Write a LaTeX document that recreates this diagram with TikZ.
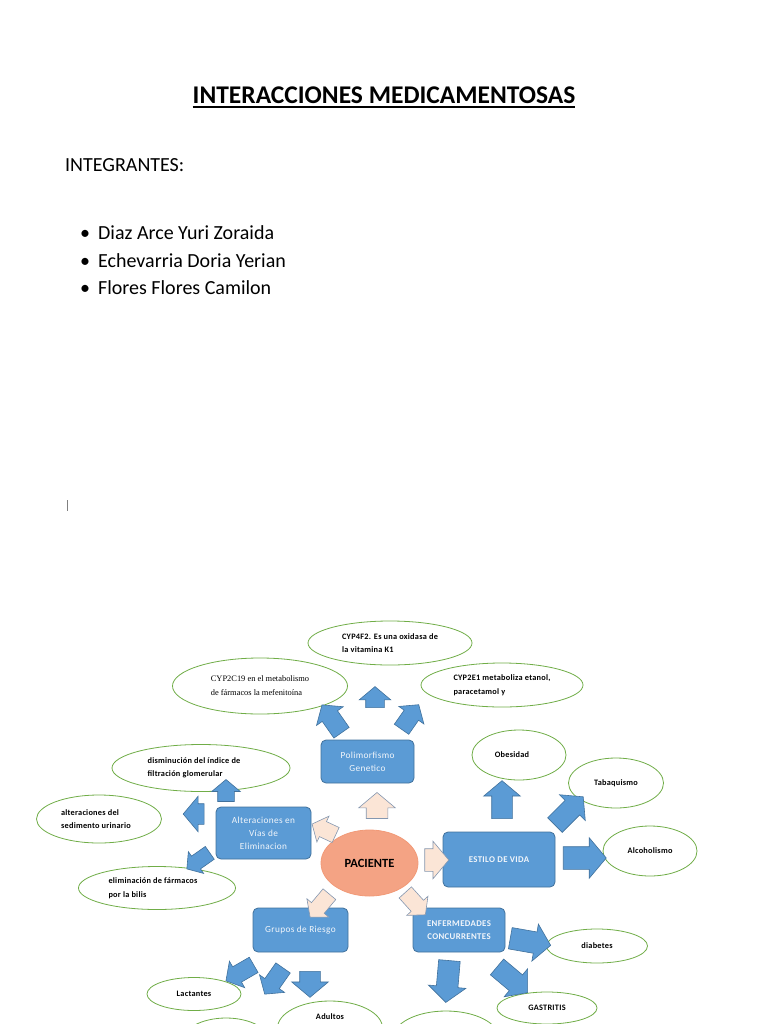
\documentclass[tikz,border=0pt]{standalone}
\usepackage{fontspec}
\setmainfont{Carlito}
\newfontfamily\cypserif{Liberation Serif}
\usetikzlibrary{shapes.arrows,shapes.geometric}
\definecolor{boxblue}{HTML}{5B9BD5}
\definecolor{boxedge}{HTML}{41719C}
\definecolor{peach}{HTML}{FBE5D6}
\definecolor{peachedge}{HTML}{8497B0}
\definecolor{ellgreen}{HTML}{70AD47}
\definecolor{salmon}{HTML}{F4A384}
\definecolor{salmonedge}{HTML}{F19A78}
\definecolor{boxtext}{HTML}{F2F6FB}
\begin{document}
\begin{tikzpicture}[x=1pt,y=-1pt,
  oval/.style={ellipse, draw=ellgreen, line width=0.8pt, fill=white, inner sep=0pt,
    align=left, font=\fontsize{8.3}{13.5}\selectfont\bfseries\addfontfeatures{LetterSpace=3}, text=black},
  bbox/.style={rectangle, rounded corners=5pt, draw=boxedge, line width=0.8pt, fill=boxblue,
    inner sep=0pt, align=center, text=boxtext, font=\fontsize{9.3}{13}\selectfont\addfontfeatures{LetterSpace=4}},
  arrsize/.style n args={4}{minimum height=#1, inner xsep=0pt, inner ysep=#3, single arrow head extend=#4},
  bluearr/.style={single arrow, draw=boxedge, fill=boxblue, line width=0.6pt,
    single arrow tip angle=100, arrsize=#1},
  peacharr/.style={single arrow, draw=peachedge, fill=peach, line width=0.6pt,
    single arrow tip angle=100, arrsize=#1},
  etext/.style={font=\fontsize{8.3}{13}\selectfont\bfseries\addfontfeatures{LetterSpace=3}, inner sep=0pt}
]
\useasboundingbox (0,0) rectangle (768,1024);
\clip (0,0) rectangle (768,1024);

% header
\node[font=\fontsize{25.5}{30}\selectfont\bfseries, inner sep=0pt] (title) at (384,95) {INTERACCIONES MEDICAMENTOSAS};
\draw[line width=1.4pt] (title.south west |- 0,107) coordinate (ul1) -- (title.south east |- 0,107) coordinate (ul2);
\node[font=\fontsize{20}{24}\selectfont, anchor=west, inner sep=0pt] (integ) at (65,165) {INTEGRANTES:};
\node[font=\fontsize{20}{24}\selectfont, anchor=west, inner sep=0pt] (b1) at (80,233) {\textbullet\hspace{8pt}Diaz Arce Yuri Zoraida};
\node[font=\fontsize{20}{24}\selectfont, anchor=west, inner sep=0pt] (b2) at (80,261) {\textbullet\hspace{8pt}Echevarria Doria Yerian};
\node[font=\fontsize{20}{24}\selectfont, anchor=west, inner sep=0pt] (b3) at (80,288) {\textbullet\hspace{8pt}Flores Flores Camilon};
\draw[gray, line width=1pt] (67,500) coordinate (m1) -- (67,511) coordinate (m2);

% ellipses
\node[oval, minimum width=164, minimum height=44] (cyp4) at (390,643) {CYP4F2. Es una oxidasa de\\la vitamina K1};
\node[oval, minimum width=175, minimum height=56, font=\fontsize{8.4}{14}\selectfont\cypserif] (cyp2c) at (260,686) {CYP2C19 en el metabolismo\\de fármacos la mefenitoína};
\node[oval, minimum width=162, minimum height=44] (cyp2e) at (502,685) {CYP2E1 metaboliza etanol,\\paracetamol y};
\node[oval, minimum width=94, minimum height=50] (obes) at (519,755) {\hspace{-14pt}Obesidad};
\node[oval, minimum width=95, minimum height=50] (taba) at (616,783) {Tabaquismo};
\node[oval, minimum width=94, minimum height=50] (alco) at (650,851) {Alcoholismo};
\node[oval, minimum width=178, minimum height=47] (dism) at (201,768) {\hspace{-14pt}disminución del índice de\\\hspace{-14pt}filtración glomerular};
\node[oval, minimum width=125, minimum height=48] (sedi) at (99,819) {\hspace{-6pt}alteraciones del\\\hspace{-6pt}sedimento urinario};
\node[oval, minimum width=157, minimum height=43] (bili) at (157,888) {\hspace{-8pt}eliminación de fármacos\\\hspace{-8pt}por la bilis};
\node[oval, minimum width=94, minimum height=33] (lact) at (194,994) {Lactantes};
\node[oval, minimum width=105, minimum height=54] (adul) at (330,1028) {};
\node[etext] (adultxt) at (330,1017) {Adultos};
\node[oval, minimum width=90, minimum height=50] (ellc) at (226,1043) {};
\node[oval, minimum width=106, minimum height=54] (elld) at (446,1038) {};
\node[oval, minimum width=100, minimum height=32] (gast) at (547,1008) {GASTRITIS};
\node[oval, minimum width=101, minimum height=34] (diab) at (597,946) {diabetes};

% boxes
\node[bbox, minimum width=93, minimum height=43] (poli) at (367.5,761.5) {Polimorfismo\\Genetico};
\node[bbox, minimum width=95, minimum height=52] (alt) at (263.5,833) {Alteraciones en\\Vías de\\Eliminacion};
\node[bbox, minimum width=112, minimum height=55, font=\fontsize{8.8}{13}\selectfont\bfseries\addfontfeatures{LetterSpace=4}] (est) at (499,859.5) {ESTILO DE VIDA};
\node[bbox, minimum width=95, minimum height=44] (grup) at (300.5,930) {Grupos de Riesgo};
\node[bbox, minimum width=92, minimum height=44, font=\fontsize{8.8}{13}\selectfont\bfseries\addfontfeatures{LetterSpace=4}] (enf) at (459,930) {ENFERMEDADES\\CONCURRENTES};

% patient
\node[ellipse, draw=salmonedge, fill=salmon, line width=0.8pt, minimum width=97, minimum height=66,
  inner sep=0pt, font=\fontsize{12.5}{14}\selectfont\bfseries] (pac) at (369.5,863) {PACIENTE};

% peach arrows from PACIENTE  {length}{unused}{half shaft}{head extend}
\node[peacharr={26}{36}{10.5}{7.5}, rotate=90] (p1) at (377,810) {};
\node[peacharr={26}{28}{8}{6}, rotate=155] (p2) at (327,831) {};
\node[peacharr={24}{37}{11}{7.5}, rotate=0] (p3) at (432,860) {};
\node[peacharr={30}{28}{8}{6}, rotate=230] (p4) at (322,903) {};
\node[peacharr={30}{28}{8}{6}, rotate=-48] (p5) at (413,901) {};

% blue arrows
\node[bluearr={34}{32}{9}{7}, rotate=125] (a1) at (334,722) {};
\node[bluearr={21}{31}{9}{6.5}, rotate=90] (a2) at (375,701) {};
\node[bluearr={30}{30}{8.5}{6.5}, rotate=55] (a3) at (408,720) {};
\node[bluearr={22}{28}{8}{6}, rotate=90] (a4) at (226,794) {};
\node[bluearr={21}{35}{10}{7.5}, rotate=180] (a5) at (198,814) {};
\node[bluearr={28}{26}{7.5}{5.5}, rotate=215] (a6) at (201,859) {};
\node[bluearr={38}{36}{10}{8}, rotate=90] (a7) at (502,804) {};
\node[bluearr={40}{36}{10}{8}, rotate=45] (a8) at (566,814) {};
\node[bluearr={43}{40}{11}{9}, rotate=0] (a9) at (580,858) {};
\node[bluearr={32}{30}{8.5}{6.5}, rotate=210] (a10) at (243,971) {};
\node[bluearr={32}{30}{8.5}{6.5}, rotate=235] (a11) at (276,978) {};
\node[bluearr={26}{36}{10}{8}, rotate=-90] (a12) at (310,980) {};
\node[bluearr={41}{37}{10.5}{8}, rotate=-10] (a13) at (526,941) {};
\node[bluearr={42}{37}{10.5}{8}, rotate=-95] (a14) at (448,977) {};
\node[bluearr={40}{36}{10}{8}, rotate=-40] (a15) at (509,977) {};
\end{tikzpicture}
\end{document}
